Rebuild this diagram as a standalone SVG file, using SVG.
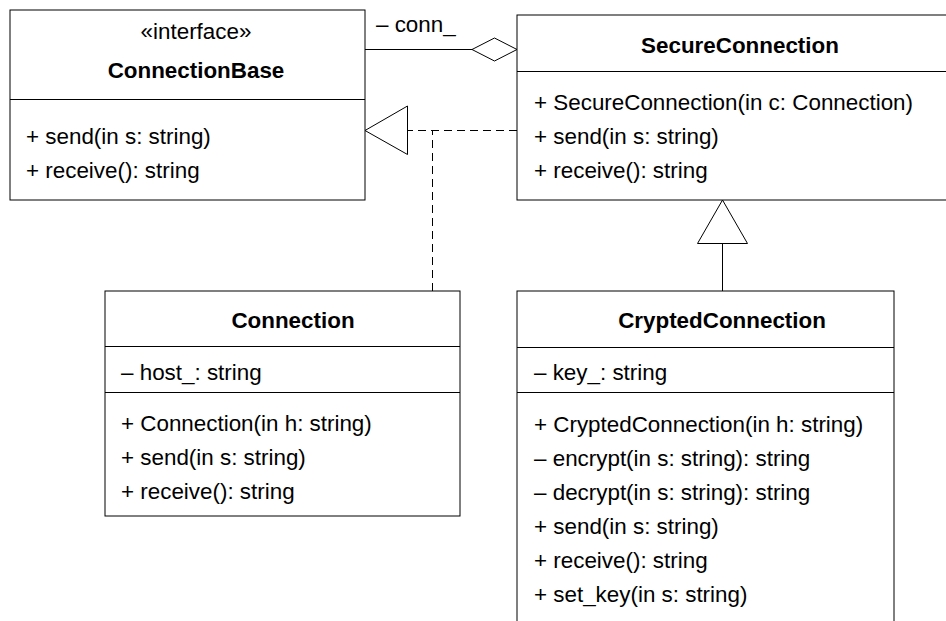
<svg xmlns="http://www.w3.org/2000/svg" width="946" height="621" viewBox="0 0 946 621">
<style>
.box{fill:#fff;stroke:#000;stroke-width:1}
.div{stroke:#000;stroke-width:1;fill:none}
text{font-family:"Liberation Sans",Arial,sans-serif;font-size:22.4px;fill:#000}
.t{font-weight:bold;text-anchor:middle}
.c{text-anchor:middle}
.ln{stroke:#000;stroke-width:1;fill:none}
.dash{stroke:#000;stroke-width:1;fill:none;stroke-dasharray:8,5}
.head{fill:#fff;stroke:#000;stroke-width:1}
</style>
<rect width="946" height="621" fill="#fff"/>
<g id="ConnectionBase">
<rect class="box" x="10" y="10" width="355" height="190"/>
<line class="div" x1="10" y1="99.5" x2="365" y2="99.5"/>
<text class="c" x="196" y="39">«interface»</text>
<text class="t" x="196" y="78">ConnectionBase</text>
<text x="26" y="144">+ send(in s: string)</text>
<text x="26" y="178">+ receive(): string</text>
</g>
<g id="SecureConnection">
<rect class="box" x="517" y="15" width="440" height="185"/>
<line class="div" x1="517" y1="71.5" x2="946" y2="71.5"/>
<text class="t" x="740" y="53">SecureConnection</text>
<text x="534" y="110">+ SecureConnection(in c: Connection)</text>
<text x="534" y="144">+ send(in s: string)</text>
<text x="534" y="178">+ receive(): string</text>
</g>
<g id="Connection">
<rect class="box" x="105" y="291" width="355" height="225"/>
<line class="div" x1="105" y1="346.5" x2="460" y2="346.5"/>
<line class="div" x1="105" y1="392.5" x2="460" y2="392.5"/>
<text class="t" x="293" y="328">Connection</text>
<text x="121" y="380">– host_: string</text>
<text x="121" y="431">+ Connection(in h: string)</text>
<text x="121" y="465">+ send(in s: string)</text>
<text x="121" y="499">+ receive(): string</text>
</g>
<g id="CryptedConnection">
<rect class="box" x="517" y="291" width="377" height="345"/>
<line class="div" x1="517" y1="347.5" x2="894" y2="347.5"/>
<line class="div" x1="517" y1="392.5" x2="894" y2="392.5"/>
<text class="t" x="722" y="328">CryptedConnection</text>
<text x="534" y="380">– key_: string</text>
<text x="534" y="432">+ CryptedConnection(in h: string)</text>
<text x="534" y="466">– encrypt(in s: string): string</text>
<text x="534" y="500">– decrypt(in s: string): string</text>
<text x="534" y="534">+ send(in s: string)</text>
<text x="534" y="568">+ receive(): string</text>
<text x="534" y="602">+ set_key(in s: string)</text>
</g>
<g id="connectors">
<line class="ln" x1="365" y1="49.5" x2="472" y2="49.5"/>
<polygon class="head" points="472,49.5 494.5,38 517,49.5 494.5,61"/>
<text x="376" y="32">– conn_</text>
<path class="dash" d="M517,130.5 H407"/>
<path class="dash" d="M432.5,291 V130.5"/>
<polygon class="head" points="365,130.5 407.5,106 407.5,154.5"/>
<line class="ln" x1="722.5" y1="291" x2="722.5" y2="243.5"/>
<polygon class="head" points="722.5,200 747.5,243.5 697.5,243.5"/>
</g>
</svg>
